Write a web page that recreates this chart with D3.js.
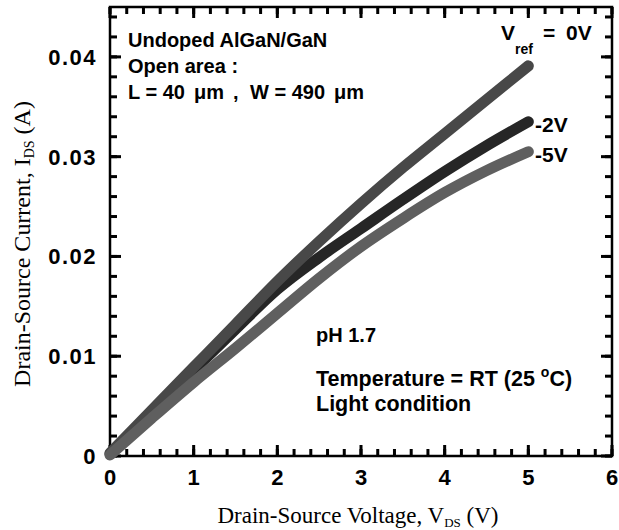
<!DOCTYPE html>
<html>
<head>
<meta charset="utf-8">
<script src="https://cdn.jsdelivr.net/npm/d3@7"></script>
<style>
  html, body { margin: 0; padding: 0; background: #fff; }
  svg { display: block; }
  .bold { font-family: "Liberation Sans", Arial, sans-serif; font-weight: bold; fill: #000; }
  .serif { font-family: "Liberation Serif", "Times New Roman", serif; fill: #000; }
</style>
</head>
<body>
<svg id="chart"></svg>
<script>
// Drain-source voltage samples (V)
const vds = [0, 0.5, 1, 1.5, 2, 2.5, 3, 3.5, 4, 4.5, 5];
// Drain-source current (A) for each reference voltage
const ids0V = [0.0003, 0.0046, 0.0089, 0.0132, 0.0175, 0.0215, 0.0253, 0.0289, 0.0323, 0.0357, 0.0391];
const ids2V = [0.0002, 0.0044, 0.0086, 0.0127, 0.0167, 0.0199, 0.0228, 0.0257, 0.0285, 0.0311, 0.0335];
const ids5V = [0.0001, 0.0038, 0.0074, 0.0108, 0.0143, 0.0178, 0.0210, 0.0238, 0.0264, 0.0286, 0.0305];

const seriesNames = ["-2V", "0V", "-5V"];
const seriesColors = ["#262626", "#484848", "#5f5f5f"];

const xTicks = [0, 1, 2, 3, 4, 5, 6];
const yTicks = [0, 0.01, 0.02, 0.03, 0.04];
const yTickLabels = ["0", "0.01", "0.02", "0.03", "0.04"];

const width = 619, height = 530;
const margin = { top: 7, right: 7, bottom: 74, left: 110 };

const svg = d3.select('#chart')
    .attr('width', width)
    .attr('height', height);

const x = d3.scaleLinear().domain([0, 6]).range([margin.left, width - margin.right]);
const y = d3.scaleLinear().domain([0, 0.045]).range([height - margin.bottom, margin.top]);

const xMinor = d3.range(0, 31).map(i => i / 5);
const yMinor = d3.range(0, 23).map(i => i * 0.002);

const plotL = x(0), plotR = x(6), plotB = y(0), plotT = y(0.045);

// Frame
svg.append('path')
    .attr('d', `M${plotL},${plotT}H${plotR}V${plotB}H${plotL}Z`)
    .attr('fill', 'none')
    .attr('stroke', '#000')
    .attr('stroke-width', 2.5);

// Inward ticks on all four sides, as small filled bars
const tickW = 3;
function drawTicks(values, len, isX) {
    const g = svg.append('g').attr('fill', '#000');
    if (isX) {
        g.selectAll(null).data(values).enter().append('rect')
            .attr('x', d => x(d) - tickW / 2).attr('y', plotB - len)
            .attr('width', tickW).attr('height', len);
        g.selectAll(null).data(values).enter().append('rect')
            .attr('x', d => x(d) - tickW / 2).attr('y', plotT)
            .attr('width', tickW).attr('height', len);
    } else {
        g.selectAll(null).data(values).enter().append('rect')
            .attr('x', plotL).attr('y', d => y(d) - tickW / 2)
            .attr('width', len).attr('height', tickW);
        g.selectAll(null).data(values).enter().append('rect')
            .attr('x', plotR - len).attr('y', d => y(d) - tickW / 2)
            .attr('width', len).attr('height', tickW);
    }
}
drawTicks(xMinor, 7, true);
drawTicks(yMinor, 7, false);
drawTicks(xTicks, 11, true);
drawTicks(yTicks, 11, false);

// Tick labels
svg.append('g').selectAll('text')
    .data(xTicks)
    .enter().append('text')
    .attr('class', 'bold')
    .attr('x', d => x(d))
    .attr('y', plotB + 29)
    .attr('text-anchor', 'middle')
    .style('font-size', '22px')
    .text(d => d3.format('d')(d));

svg.append('g').selectAll('text')
    .data(yTicks)
    .enter().append('text')
    .attr('class', 'bold')
    .attr('x', plotL - 13)
    .attr('y', d => y(d) + 8)
    .attr('text-anchor', 'end')
    .style('font-size', '22px')
    .style('letter-spacing', '1.5px')
    .text((d, i) => yTickLabels[i]);

// Curves
const line = d3.line()
    .x(d => x(d[0]))
    .y(d => y(d[1]))
    .curve(d3.curveMonotoneX);

const seriesData = [ids2V, ids0V, ids5V];
seriesData.forEach((ids, i) => {
    svg.append('path')
        .datum(vds.map((v, j) => [v, ids[j]]))
        .attr('d', line)
        .attr('fill', 'none')
        .attr('stroke', seriesColors[i])
        .attr('stroke-width', 11)
        .attr('stroke-linecap', 'round')
        .attr('stroke-linejoin', 'round');
});

// Axis titles
const xt = svg.append('text')
    .attr('class', 'serif')
    .attr('x', 358)
    .attr('y', 523)
    .attr('text-anchor', 'middle')
    .style('font-size', '23px');
xt.append('tspan').text('Drain-Source Voltage, V');
xt.append('tspan').attr('dy', 4).style('font-size', '13px').text('DS');
xt.append('tspan').attr('dy', -4).text(' (V)');

const yt = svg.append('text')
    .attr('class', 'serif')
    .attr('transform', 'translate(30,244) rotate(-90)')
    .attr('text-anchor', 'middle')
    .style('font-size', '24px');
yt.append('tspan').text('Drain-Source Current, I');
yt.append('tspan').attr('dy', 4).style('font-size', '14px').text('DS');
yt.append('tspan').attr('dy', -4).text(' (A)');

// Annotations
const note = (t, xp, yp, size) => svg.append('text')
    .attr('class', 'bold')
    .attr('x', xp)
    .attr('y', yp)
    .style('font-size', (size || 20) + 'px')
    .text(t);

note("Undoped AlGaN/GaN", 128, 47);
note("Open area :", 128, 73);
const lw = svg.append('text').attr('class', 'bold').attr('y', 99).style('font-size', '20px');
lw.append('tspan').attr('x', 128).text('L = 40');
lw.append('tspan').attr('x', 194).text('\u03bcm');
lw.append('tspan').attr('x', 233).text(',');
lw.append('tspan').attr('x', 250).text('W = 490');
lw.append('tspan').attr('x', 334).text('\u03bcm');

const vref = svg.append('text').attr('class', 'bold').attr('y', 40).style('font-size', '21px');
vref.append('tspan').attr('x', 501).text('V');
vref.append('tspan').attr('x', 515).attr('dy', 14).style('font-size', '14px').text('ref');
vref.append('tspan').attr('x', 543).attr('dy', -14).text('=');
vref.append('tspan').attr('x', 566).text('0V');

note(seriesNames[0], 535, 132, 21);
note(seriesNames[2], 535, 162, 21);

note("pH 1.7", 316, 342);

const temp = svg.append('text').attr('class', 'bold')
    .attr('x', 316).attr('y', 386).style('font-size', '21.5px');
temp.append('tspan').text('Temperature = RT (25 ');
temp.append('tspan').attr('dy', -9).style('font-size', '14px').text('o');
temp.append('tspan').attr('dy', 9).text('C)');

note("Light condition", 316, 411, 21.5);
</script>
</body>
</html>
